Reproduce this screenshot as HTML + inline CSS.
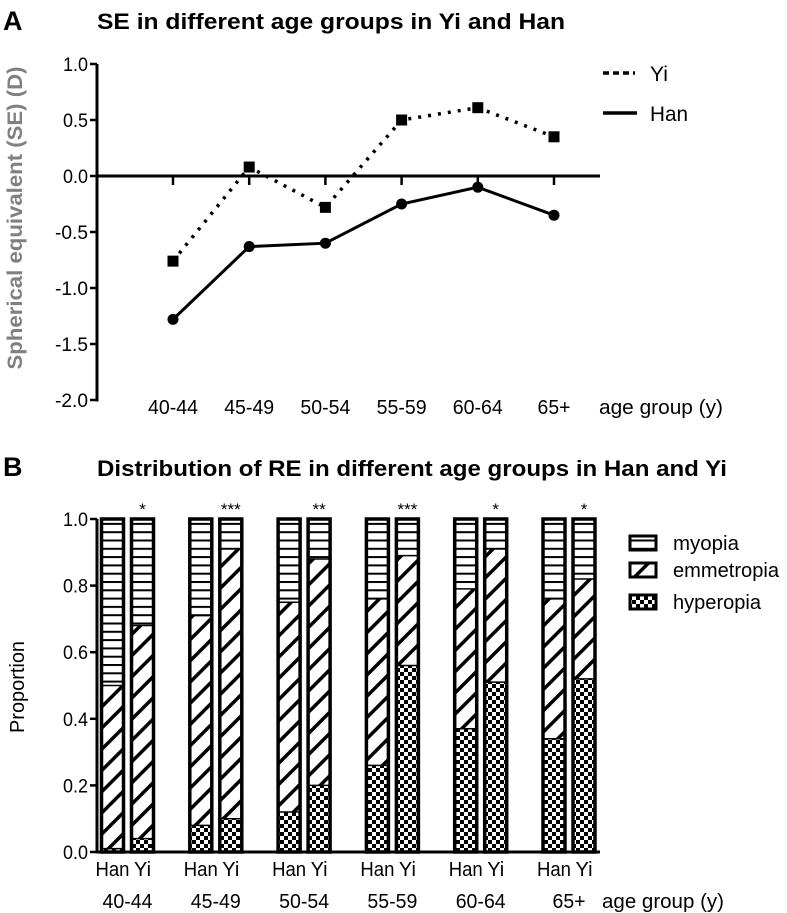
<!DOCTYPE html>
<html><head><meta charset="utf-8"><style>
html,body{margin:0;padding:0;background:#fff;}
svg{display:block;font-family:"Liberation Sans",sans-serif;}
</style></head><body>
<svg id="fig" width="787" height="913" viewBox="0 0 787 913" xmlns="http://www.w3.org/2000/svg">
<defs>
<pattern id="pMyo" patternUnits="userSpaceOnUse" width="8" height="8.3"><rect width="8" height="8.3" fill="#fff"/><rect y="0" width="8" height="2" fill="#000"/></pattern>
<pattern id="pEmm" patternUnits="userSpaceOnUse" width="15" height="15" patternTransform="rotate(45)"><rect width="15" height="15" fill="#fff"/><rect x="0" width="3.5" height="15" fill="#000"/></pattern>
<pattern id="pHyp" patternUnits="userSpaceOnUse" width="8" height="8"><rect width="8" height="8" fill="#fff"/><rect width="4" height="4" fill="#000"/><rect x="4" y="4" width="4" height="4" fill="#000"/></pattern>
</defs>
<g id="chartA"></g>
<g id="chartB"></g>
</svg>
<script>
const groups = ["40-44","45-49","50-54","55-59","60-64","65+"];
const yiSE = [-0.76, 0.08, -0.28, 0.50, 0.61, 0.35];
const hanSE = [-1.28, -0.63, -0.60, -0.25, -0.10, -0.35];
const seTicks = [1.0, 0.5, 0.0, -0.5, -1.0, -1.5, -2.0];
const hanHyper = [0.01, 0.08, 0.12, 0.26, 0.37, 0.34];
const hanEmmTop = [0.50, 0.71, 0.75, 0.76, 0.79, 0.76];
const yiHyper = [0.04, 0.10, 0.20, 0.56, 0.51, 0.52];
const yiEmmTop = [0.68, 0.91, 0.88, 0.89, 0.91, 0.82];
const sigLabels = ["*","***","**","***","*","*"];
const propTicks = [0.0, 0.2, 0.4, 0.6, 0.8, 1.0];

const NS="http://www.w3.org/2000/svg";
function mk(parent, tag, attrs, text){
  const e=document.createElementNS(NS,tag);
  for(const k in attrs) e.setAttribute(k,attrs[k]);
  if(text!==undefined) e.textContent=text;
  parent.appendChild(e); return e;
}
const A=document.getElementById('chartA');
const B=document.getElementById('chartB');
function lw(s){ return s==="65+"?33:50; }

// ---------- Chart A ----------
const yA = v => 176 - v*112;
const xA = i => 173 + i*76.2;
let t;
t=mk(A,'text',{x:3,y:30,'font-size':27,'font-weight':'bold'},'A');


t=mk(A,'text',{x:97,y:29,'font-size':22,'font-weight':'bold',textLength:468,lengthAdjust:'spacingAndGlyphs'},'SE in different age groups in Yi and Han');


t=mk(A,'text',{x:0,y:0,'font-size':21,'font-weight':'bold',fill:'#808080','text-anchor':'middle',transform:'translate(22,218) rotate(-90)',textLength:303,lengthAdjust:'spacingAndGlyphs'},'Spherical equivalent (SE) (D)');


t=mk(A,'line',{x1:97,y1:yA(1),x2:97,y2:yA(-2)+1.5,stroke:'#000','stroke-width':3});


seTicks.forEach(v=>{
  const l=mk(A,'line',{x1:90,y1:yA(v),x2:97,y2:yA(v),stroke:'#000','stroke-width':2.5});
  
  
  const s=mk(A,'text',{x:88,y:yA(v)+7,'font-size':19,'text-anchor':'end',textLength:v<0?33:25,lengthAdjust:'spacingAndGlyphs'},v.toFixed(1));
  
  
});
t=mk(A,'line',{x1:97,y1:yA(0),x2:600,y2:yA(0),stroke:'#000','stroke-width':3});


groups.forEach((g,i)=>{
  const l=mk(A,'line',{x1:xA(i),y1:yA(0),x2:xA(i),y2:yA(0)+9,stroke:'#000','stroke-width':2.5});
  
  
  const s=mk(A,'text',{x:xA(i),y:414,'font-size':20,'text-anchor':'middle',textLength:lw(g),lengthAdjust:'spacingAndGlyphs'},g);
  
  
});
t=mk(A,'text',{x:599,y:414,'font-size':20,textLength:124,lengthAdjust:'spacingAndGlyphs'},'age group (y)');


let p=yiSE.map((v,i)=>xA(i)+','+yA(v)).join(' ');
t=mk(A,'polyline',{points:p,fill:'none',stroke:'#000','stroke-width':3.5,'stroke-dasharray':'3 7'});


p=hanSE.map((v,i)=>xA(i)+','+yA(v)).join(' ');
t=mk(A,'polyline',{points:p,fill:'none',stroke:'#000','stroke-width':3});


yiSE.forEach((v,i)=>{
  const r=mk(A,'rect',{x:xA(i)-5.5,y:yA(v)-5.5,width:11,height:11,fill:'#000'});
  
  
});
hanSE.forEach((v,i)=>{
  const c=mk(A,'circle',{cx:xA(i),cy:yA(v),r:5.5,fill:'#000'});
  
  
});
t=mk(A,'line',{x1:603,y1:73,x2:635,y2:73,stroke:'#000','stroke-width':3.5,'stroke-dasharray':'6 4'});


t=mk(A,'text',{x:650,y:81,'font-size':21,textLength:18,lengthAdjust:'spacingAndGlyphs'},'Yi');


t=mk(A,'line',{x1:603,y1:113,x2:637,y2:113,stroke:'#000','stroke-width':3.5});


t=mk(A,'text',{x:650,y:121,'font-size':21,textLength:38,lengthAdjust:'spacingAndGlyphs'},'Han');



// ---------- Chart B ----------
const yB = v => 852 - v*333;
const xHan = i => 101.5 + i*88.3;
const bw = 22;
t=mk(B,'text',{x:3,y:476,'font-size':27,'font-weight':'bold'},'B');


t=mk(B,'text',{x:97,y:476,'font-size':22,'font-weight':'bold',textLength:630,lengthAdjust:'spacingAndGlyphs'},'Distribution of RE in different age groups in Han and Yi');


t=mk(B,'text',{x:0,y:0,'font-size':20,'text-anchor':'middle',transform:'translate(24,687) rotate(-90)',textLength:92,lengthAdjust:'spacingAndGlyphs'},'Proportion');


propTicks.forEach(v=>{
  const l=mk(B,'line',{x1:90,y1:yB(v),x2:97,y2:yB(v),stroke:'#000','stroke-width':2.5});
  
  
  const s=mk(B,'text',{x:88,y:yB(v)+7,'font-size':19,'text-anchor':'end',textLength:25,lengthAdjust:'spacingAndGlyphs'},v.toFixed(1));
  
  
});
function bar(x,hyp,emm,name){
  const g=mk(B,'g',{});
  
  
  mk(g,'rect',{x:x,y:yB(1),width:bw,height:yB(emm)-yB(1),fill:'url(#pMyo)'});
  mk(g,'rect',{x:x,y:yB(emm),width:bw,height:yB(hyp)-yB(emm),fill:'url(#pEmm)'});
  mk(g,'rect',{x:x,y:yB(hyp),width:bw,height:yB(0)-yB(hyp),fill:'url(#pHyp)'});
  mk(g,'line',{x1:x,y1:yB(emm),x2:x+bw,y2:yB(emm),stroke:'#000','stroke-width':1.5});
  mk(g,'line',{x1:x,y1:yB(hyp),x2:x+bw,y2:yB(hyp),stroke:'#000','stroke-width':1.5});
  mk(g,'rect',{x:x,y:yB(1),width:bw,height:yB(0)-yB(1),fill:'none',stroke:'#000','stroke-width':3.5});
}
groups.forEach((gname,i)=>{
  bar(xHan(i),hanHyper[i],hanEmmTop[i],'bar-han-'+gname);
  bar(xHan(i)+30,yiHyper[i],yiEmmTop[i],'bar-yi-'+gname);
  let s=mk(B,'text',{x:xHan(i)+30+bw/2,y:515,'font-size':17,'text-anchor':'middle'},sigLabels[i]);
  
  
  s=mk(B,'text',{x:xHan(i)+11,y:876,'font-size':20,'text-anchor':'middle',textLength:34,lengthAdjust:'spacingAndGlyphs'},'Han');
  
  
  s=mk(B,'text',{x:xHan(i)+41,y:876,'font-size':20,'text-anchor':'middle',textLength:17,lengthAdjust:'spacingAndGlyphs'},'Yi');
  
  
  s=mk(B,'text',{x:xHan(i)+26,y:908,'font-size':20,'text-anchor':'middle',textLength:lw(gname),lengthAdjust:'spacingAndGlyphs'},gname);
  
  
});
t=mk(B,'line',{x1:97,y1:yB(1),x2:97,y2:yB(0)+1.5,stroke:'#000','stroke-width':3});


t=mk(B,'line',{x1:97,y1:yB(0),x2:600,y2:yB(0),stroke:'#000','stroke-width':3});


t=mk(B,'text',{x:602,y:908,'font-size':20,textLength:122,lengthAdjust:'spacingAndGlyphs'},'age group (y)');


const legItems=[['myopia','pMyo',543,66],['emmetropia','pEmm',570,106],['hyperopia','pHyp',602,88]];
legItems.forEach(it=>{
  const r=mk(B,'rect',{x:630,y:it[2]-7,width:26,height:14,fill:'url(#'+it[1]+')',stroke:'#000','stroke-width':3});
  
  
  const s=mk(B,'text',{x:673,y:it[2]+7,'font-size':20,textLength:it[3],lengthAdjust:'spacingAndGlyphs'},it[0]);
  
  
});
</script>
</body></html>
